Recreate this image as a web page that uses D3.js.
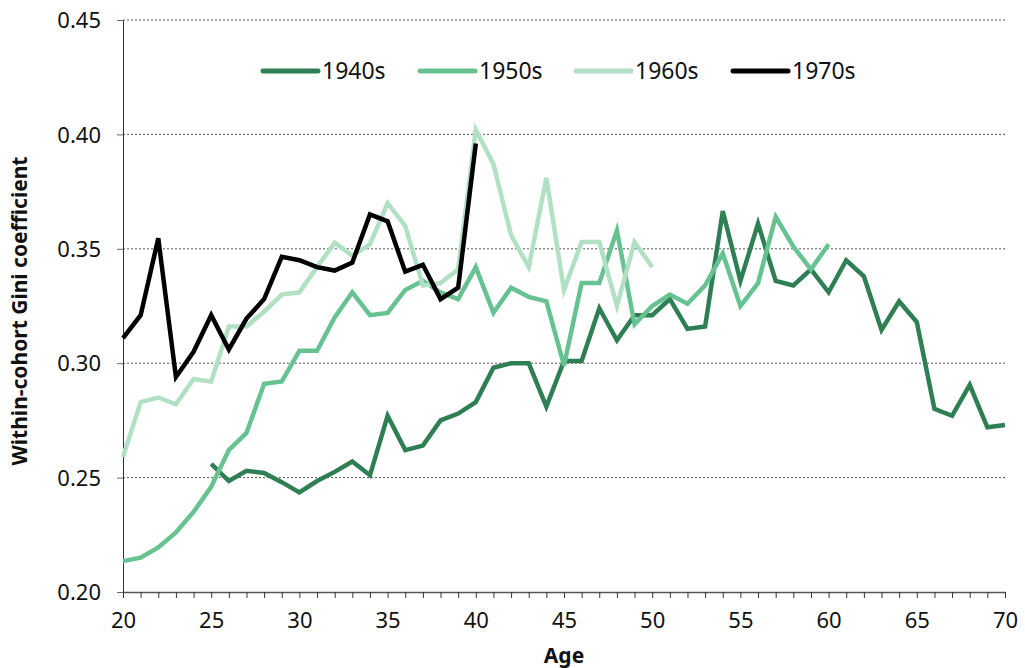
<!DOCTYPE html>
<html><head><meta charset="utf-8">
<script src="https://cdn.jsdelivr.net/npm/d3@7"></script>
<style>body{margin:0;background:#fff;}text{font-family:"Noto Sans","Open Sans",sans-serif;}</style>
</head><body>
<svg id="c" width="1025" height="668"></svg>
<script>
const series = ["1940s","1950s","1960s","1970s"];
const colors = ["#2f7f55","#66c391","#b2e0c5","#000000"];
const startAges = [25, 20, 20, 20];
const gini1940s = [0.256,0.2485,0.253,0.252,0.248,0.2435,0.2485,0.2525,0.257,0.251,0.277,0.262,0.264,0.275,0.278,0.283,0.298,0.300,0.300,0.281,0.301,0.301,0.324,0.310,0.321,0.321,0.328,0.315,0.316,0.3665,0.336,0.361,0.336,0.334,0.341,0.331,0.345,0.338,0.3145,0.327,0.318,0.280,0.277,0.2905,0.272,0.273];
const gini1950s = [0.2135,0.215,0.2195,0.226,0.235,0.246,0.262,0.2695,0.291,0.292,0.3054,0.3054,0.320,0.331,0.321,0.322,0.332,0.336,0.331,0.328,0.342,0.322,0.333,0.329,0.327,0.299,0.335,0.335,0.358,0.317,0.325,0.330,0.326,0.334,0.348,0.325,0.335,0.364,0.351,0.341,0.352];
const gini1960s = [0.259,0.283,0.285,0.282,0.293,0.292,0.316,0.316,0.3225,0.330,0.331,0.342,0.3527,0.347,0.352,0.370,0.360,0.334,0.335,0.341,0.402,0.387,0.356,0.342,0.381,0.332,0.353,0.353,0.325,0.353,0.342];
const gini1970s = [0.311,0.321,0.3546,0.294,0.305,0.321,0.306,0.3195,0.328,0.3465,0.345,0.342,0.3405,0.344,0.365,0.362,0.340,0.343,0.328,0.333,0.396];
const yTicks = [0.20,0.25,0.30,0.35,0.40,0.45];
const xTicks = [20,25,30,35,40,45,50,55,60,65,70];
const allSeries = [gini1940s,gini1950s,gini1960s,gini1970s];

const svg = d3.select("#c");
const L=123,R=1005,T=20,B=592;
const x = d3.scaleLinear().domain([20,70]).range([L,R]);
const y = d3.scaleLinear().domain([0.20,0.45]).range([B,T]);

// gridlines
svg.append("g").selectAll("line").data(yTicks.filter(d=>d>0.2)).join("line")
  .attr("x1",L).attr("x2",R).attr("y1",d=>y(d)).attr("y2",d=>y(d))
  .attr("stroke","#555").attr("stroke-width",1).attr("stroke-dasharray","2,2");

// y axis
const ya = svg.append("g").attr("transform",`translate(${L},0)`)
  .call(d3.axisLeft(y).tickValues(yTicks).tickFormat(d3.format(".2f")).tickSize(6).tickSizeOuter(0));
ya.select(".domain").attr("stroke","#333");
ya.selectAll(".tick line").attr("stroke","#666");
ya.selectAll("text").attr("font-size",22).attr("fill","#111").attr("x",-22).attr("dy","0.35em");

// x axis
const xa = svg.append("g").attr("transform",`translate(0,${B})`)
  .call(d3.axisBottom(x).tickValues(d3.range(20,71)).tickFormat(d=>xTicks.includes(d)?d:"").tickSize(6).tickSizeOuter(0));
xa.select(".domain").attr("stroke","#555").attr("stroke-width",1.5);
xa.selectAll(".tick line").attr("stroke","#333");
xa.selectAll("text").attr("font-size",22).attr("fill","#111").attr("y",28).attr("dy","0.35em");

// lines
const line = d3.line().x(d=>x(d[0])).y(d=>y(d[1]));
allSeries.forEach((vals,i)=>{
  const pts = vals.map((v,j)=>[startAges[i]+j,v]);
  svg.append("path").datum(pts).attr("d",line).attr("fill","none")
    .attr("stroke",colors[i]).attr("stroke-width",4.5).attr("stroke-linejoin","miter").attr("stroke-linecap","butt");
});

// legend
const legX = [263,420,576,733];
series.forEach((s,i)=>{
  svg.append("line").attr("x1",legX[i]).attr("x2",legX[i]+55).attr("y1",71).attr("y2",71)
    .attr("stroke",colors[i]).attr("stroke-width",5).attr("stroke-linecap","round");
  svg.append("text").attr("x",legX[i]+59).attr("y",71).attr("dy","0.35em").attr("font-size",23).attr("fill","#111").text(s);
});

// axis titles
svg.append("text").attr("x",564).attr("y",656).attr("dy","0.35em").attr("text-anchor","middle")
  .attr("font-size",21).attr("font-weight","bold").attr("fill","#111").text("Age");
svg.append("text").attr("transform",`translate(20,311) rotate(-90)`).attr("text-anchor","middle").attr("dy","0.35em")
  .attr("font-size",21).attr("font-weight","bold").attr("fill","#111").text("Within-cohort Gini coefficient");
</script>
</body></html>
